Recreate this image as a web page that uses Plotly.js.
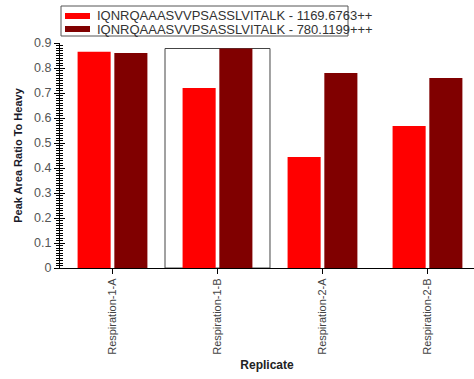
<!DOCTYPE html>
<html><head><meta charset="utf-8">
<script src="https://cdn.plot.ly/plotly-3.0.1.min.js"></script>
<style>html,body{margin:0;padding:0;background:#fff;overflow:hidden}</style>
</head><body>
<div id="chart" style="width:474px;height:379px"></div>
<script>
const categories = ["Respiration-1-A", "Respiration-1-B", "Respiration-2-A", "Respiration-2-B"];
const seriesNames = ["IQNRQAAASVVPSASSLVITALK - 1169.6763++", "IQNRQAAASVVPSASSLVITALK - 780.1199+++"];
const series1 = [0.865, 0.72, 0.444, 0.568];
const series2 = [0.86, 0.878, 0.78, 0.76];
const colors = ["#FF0000", "#800000"];
const selectedIndex = 1;

const traces = [
  {type: "bar", x: categories, y: series1, name: seriesNames[0], marker: {color: colors[0]}},
  {type: "bar", x: categories, y: series2, name: seriesNames[1], marker: {color: colors[1]}},
  {type: "scatter", mode: "none", x: [null], y: [null], yaxis: "y2", showlegend: false, hoverinfo: "skip"}
];

const selTop = Math.max(series1[selectedIndex], series2[selectedIndex]);
const font = "Arial, 'Liberation Sans', sans-serif";

// plot area in pixels: left 60, right 474, top 43, bottom 268
const L = 60, W = 414, B = 268, H = 225;
const px = v => (v - L) / W;
const py = v => (B - v) / H;

const legendShapes = [
  {type: "rect", xref: "paper", yref: "paper", x0: px(61), x1: px(348), y0: py(36), y1: py(6),
   line: {color: "#555", width: 1}, fillcolor: "#fff"}
];
const legendAnn = [];
seriesNames.forEach((n, i) => {
  const cy = 16 + i * 13;
  legendShapes.push({type: "rect", xref: "paper", yref: "paper", x0: px(65), x1: px(90), y0: py(cy + 3), y1: py(cy - 3),
    line: {width: 0}, fillcolor: colors[i]});
  legendAnn.push({xref: "paper", yref: "paper", x: px(96), y: py(cy), xanchor: "left", yanchor: "middle",
    text: n, showarrow: false, font: {family: font, size: 13, color: "#333"}, borderpad: 0});
});

const layout = {
  width: 474, height: 379,
  margin: {l: 60, r: 0, t: 43, b: 111},
  paper_bgcolor: "#fff", plot_bgcolor: "#fff",
  font: {family: font, size: 11, color: "#444"},
  barmode: "group", bargap: 0.3, bargroupgap: 0.1,
  showlegend: false,
  xaxis: {type: "category", range: [-0.5, 3.443], showline: true, linecolor: "#000", linewidth: 1,
          ticks: "outside", ticklen: 5, tickcolor: "#000", tickangle: -90, showgrid: false, zeroline: false,
          tickfont: {family: font, size: 11, color: "#444"},
          title: {text: "Replicate", font: {family: font, size: 12, color: "#222", weight: "bold"}, standoff: 6}},
  yaxis: {range: [0, 0.9], showline: true, linecolor: "#000", linewidth: 1, showgrid: false, zeroline: false,
          ticks: "outside", ticklen: 5, tickcolor: "#000", dtick: 0.1,
          minor: {dtick: 0.01, ticks: "outside", ticklen: 3, tickcolor: "#000", showgrid: false},
          tickfont: {family: font, size: 12.5, color: "#555"},
          title: {text: "Peak Area Ratio To Heavy", font: {family: font, size: 11, color: "#1a1a2a", weight: "bold"}, standoff: 9}},
  yaxis2: {overlaying: "y", side: "left", range: [0, 0.9], showline: false, showgrid: false, zeroline: false,
           ticks: "inside", ticklen: 5, tickcolor: "#000", dtick: 0.1, showticklabels: false,
           minor: {dtick: 0.01, ticks: "inside", ticklen: 3, tickcolor: "#000", showgrid: false}},
  shapes: [{type: "rect", xref: "x", yref: "y", x0: selectedIndex - 0.5, x1: selectedIndex + 0.5, y0: 0, y1: selTop,
            line: {color: "#444", width: 1}, fillcolor: "rgba(0,0,0,0)", layer: "below"}].concat(legendShapes),
  annotations: legendAnn
};

Plotly.newPlot("chart", traces, layout, {displayModeBar: false, staticPlot: true});
</script>
</body></html>
